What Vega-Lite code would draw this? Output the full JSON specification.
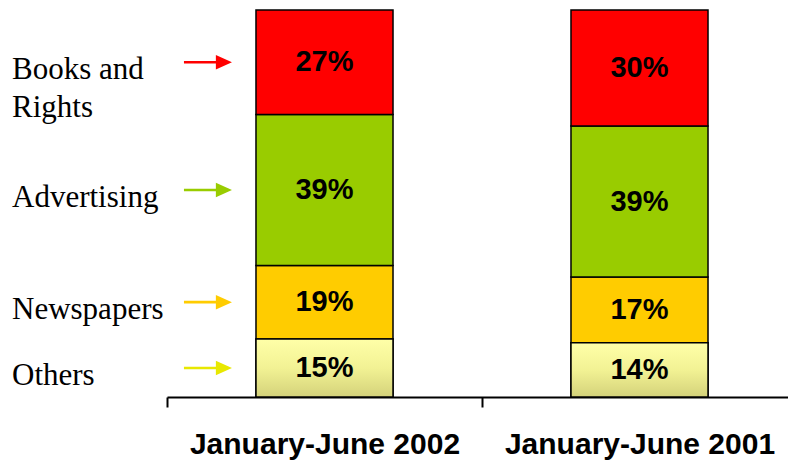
{
  "$schema": "https://vega.github.io/schema/vega-lite/v6.json",
  "autosize": {"type": "none"},
  "padding": {"left": 167, "top": 10, "right": 0, "bottom": 64},
  "width": 630,
  "height": 387,
  "background": "white",
  "config": {"view": {"stroke": null}},
  "data": {
    "values": [
      {"period": "January-June 2002", "category": "Others", "rank": 1, "share": 0.15},
      {"period": "January-June 2002", "category": "Newspapers", "rank": 2, "share": 0.19},
      {"period": "January-June 2002", "category": "Advertising", "rank": 3, "share": 0.39},
      {"period": "January-June 2002", "category": "Books and\nRights", "rank": 4, "share": 0.27},
      {"period": "January-June 2001", "category": "Others", "rank": 1, "share": 0.14},
      {"period": "January-June 2001", "category": "Newspapers", "rank": 2, "share": 0.17},
      {"period": "January-June 2001", "category": "Advertising", "rank": 3, "share": 0.39},
      {"period": "January-June 2001", "category": "Books and\nRights", "rank": 4, "share": 0.30}
    ]
  },
  "encoding": {
    "x": {
      "field": "period",
      "type": "nominal",
      "sort": ["January-June 2002", "January-June 2001"],
      "scale": {"paddingInner": 0, "paddingOuter": 0},
      "axis": {
        "title": null,
        "grid": false,
        "domain": true,
        "domainColor": "black",
        "domainWidth": 2,
        "ticks": true,
        "tickBand": "extent",
        "tickColor": "black",
        "tickWidth": 2,
        "tickSize": 10,
        "labelAngle": 0,
        "labelFont": "Liberation Sans",
        "labelFontWeight": "bold",
        "labelFontSize": 30,
        "labelColor": "black",
        "labelBaseline": "alphabetic",
        "labelPadding": 46,
        "labelLimit": 500,
        "labelOverlap": false
      }
    },
    "y": {
      "field": "share",
      "type": "quantitative",
      "stack": "zero",
      "scale": {"domain": [0, 1], "nice": false},
      "axis": null
    },
    "order": {"field": "rank", "type": "quantitative"}
  },
  "layer": [
    {
      "mark": {"type": "bar", "width": {"band": 0.435}, "stroke": "black", "strokeWidth": 1.5},
      "encoding": {
        "color": {
          "field": "category",
          "type": "nominal",
          "scale": {
            "domain": ["Others", "Newspapers", "Advertising", "Books and\nRights"],
            "range": ["#E8E800", "#FFCC00", "#99CC00", "#FF0000"]
          },
          "legend": null
        }
      }
    },
    {
      "transform": [{"filter": "datum.category === 'Others'"}],
      "mark": {
        "type": "bar",
        "width": {"band": 0.435},
        "stroke": "black",
        "strokeWidth": 1.5,
        "fill": {
          "gradient": "linear",
          "x1": 0, "y1": 0, "x2": 0, "y2": 1,
          "stops": [
            {"offset": 0, "color": "#FFFFA8"},
            {"offset": 0.5, "color": "#F2F294"},
            {"offset": 1, "color": "#D4D27A"}
          ]
        }
      }
    },
    {
      "mark": {"type": "text", "font": "Liberation Sans", "fontWeight": "bold", "fontSize": 29, "color": "black", "baseline": "middle"},
      "encoding": {
        "y": {"field": "share", "type": "quantitative", "stack": "zero", "bandPosition": 0.5},
        "detail": {"field": "category", "type": "nominal"},
        "text": {"field": "share", "type": "quantitative", "format": ".0%"}
      }
    },
    {
      "transform": [{"filter": "datum.period === 'January-June 2002'"}],
      "mark": {"type": "text", "font": "Liberation Serif", "fontSize": 31, "align": "left", "baseline": "middle", "lineBreak": "\n", "lineHeight": 38, "dy": 8, "color": "black"},
      "encoding": {
        "x": {"field": "period", "type": "nominal", "sort": ["January-June 2002", "January-June 2001"], "bandPosition": -0.492},
        "y": {"field": "share", "type": "quantitative", "stack": "zero", "bandPosition": 0.5},
        "detail": {"field": "category", "type": "nominal"},
        "text": {"field": "category", "type": "nominal"}
      }
    },
    {
      "transform": [{"filter": "datum.period === 'January-June 2002'"}],
      "mark": {"type": "point", "shape": "M-1,-0.055 L0.33,-0.055 L0.33,-0.3 L1,0 L0.33,0.3 L0.33,0.055 L-1,0.055 Z", "size": 2304, "filled": true, "opacity": 1, "strokeWidth": 0},
      "encoding": {
        "x": {"field": "period", "type": "nominal", "sort": ["January-June 2002", "January-June 2001"], "bandPosition": 0.13},
        "y": {"field": "share", "type": "quantitative", "stack": "zero", "bandPosition": 0.5},
        "color": {
          "field": "category",
          "type": "nominal",
          "scale": {
            "domain": ["Others", "Newspapers", "Advertising", "Books and\nRights"],
            "range": ["#E8E800", "#FFCC00", "#99CC00", "#FF0000"]
          },
          "legend": null
        }
      }
    }
  ]
}
